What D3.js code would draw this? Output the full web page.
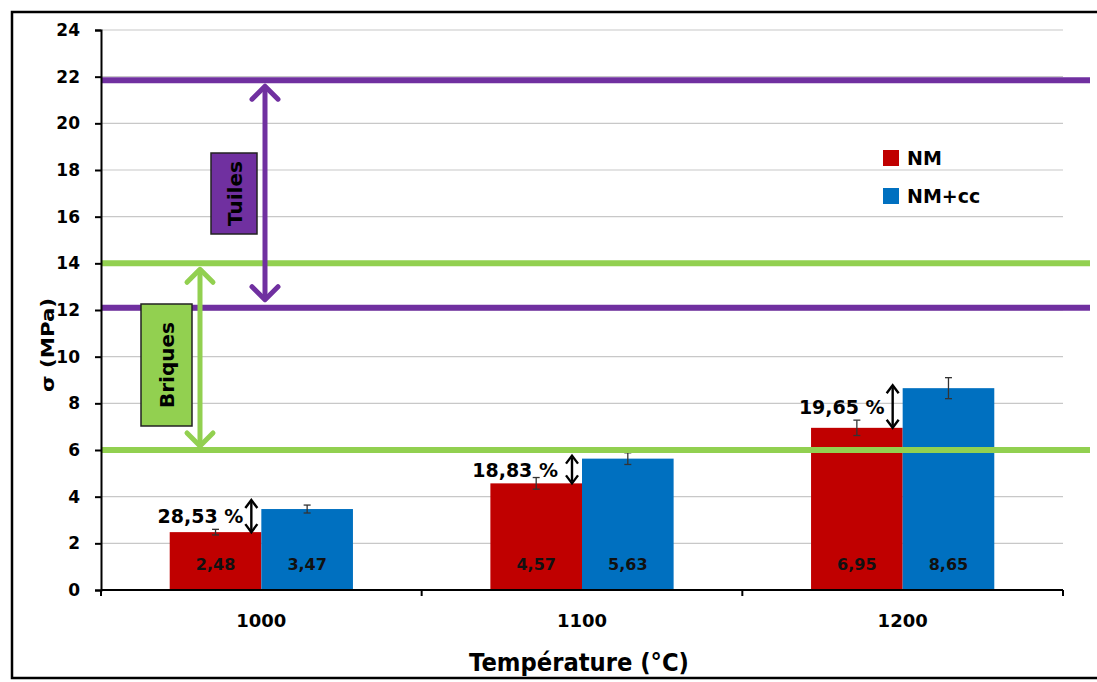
<!DOCTYPE html>
<html><head><meta charset="utf-8">
<script src="https://cdn.jsdelivr.net/npm/d3@7"></script>
<style>
body{margin:0;background:#fff;}
svg text{font-family:"DejaVu Sans",Arial,sans-serif;font-weight:bold;}
</style></head>
<body>
<svg id="chart" width="1097" height="682"></svg>
<script>
const categories = ["1000", "1100", "1200"];
const seriesNames = ["NM", "NM+cc"];
const nmValues = [2.48, 4.57, 6.95];
const nmccValues = [3.47, 5.63, 8.65];
const nmErrors = [0.12, 0.25, 0.33];
const nmccErrors = [0.17, 0.25, 0.45];
const nmLabels = ["2,48", "4,57", "6,95"];
const nmccLabels = ["3,47", "5,63", "8,65"];
const gainLabels = ["28,53 %", "18,83 %", "19,65 %"];
const yTicks = [0, 2, 4, 6, 8, 10, 12, 14, 16, 18, 20, 22, 24];
const tuilesRange = [12.1, 21.85];
const briquesRange = [6.0, 14.0];
const colors = {NM: "#C00000", "NM+cc": "#0070C0", tuiles: "#7030A0", briques: "#92D050"};

const svg = d3.select("#chart");
const pLeft = 101, pRight = 1063, pTop = 30, pBottom = 590;
const FONT = "'DejaVu Sans', Arial, sans-serif";

const y = d3.scaleLinear().domain([0, 24]).range([pBottom, pTop]);
const x = d3.scaleBand().domain(categories).range([pLeft, pRight]).paddingInner(0).paddingOuter(0);
const xs = d3.scaleBand().domain(seriesNames).range([0, x.bandwidth()]).paddingInner(0).paddingOuter(0.75);

// outer frame
svg.append("rect").attr("x", 12).attr("y", 12).attr("width", 1095).attr("height", 666)
  .attr("fill", "none").attr("stroke", "#000").attr("stroke-width", 2.5);

// gridlines
svg.append("g").selectAll("line").data(yTicks.filter(d => d > 0)).join("line")
  .attr("x1", pLeft).attr("x2", pRight).attr("y1", d => y(d)).attr("y2", d => y(d))
  .attr("stroke", "#c8c8c8").attr("stroke-width", 1.2);

// bars
const groups = svg.append("g").selectAll("g").data(categories).join("g")
  .attr("transform", d => `translate(${x(d)},0)`);
const barData = (c, i) => [
  {s: "NM", v: nmValues[i], e: nmErrors[i], l: nmLabels[i]},
  {s: "NM+cc", v: nmccValues[i], e: nmccErrors[i], l: nmccLabels[i]}
];
groups.each(function(c, i) {
  const g = d3.select(this);
  const bd = barData(c, i);
  g.selectAll("rect").data(bd).join("rect")
    .attr("x", d => xs(d.s)).attr("width", xs.bandwidth())
    .attr("y", d => y(d.v)).attr("height", d => y(0) - y(d.v))
    .attr("fill", d => colors[d.s]);
  g.selectAll("text.val").data(bd).join("text").attr("class", "val")
    .attr("x", d => xs(d.s) + xs.bandwidth() / 2).attr("y", 570)
    .attr("text-anchor", "middle").attr("font-size", 16).attr("fill", "#111")
    .text(d => d.l);
  bd.forEach(d => {
    const cx = xs(d.s) + xs.bandwidth() / 2;
    g.append("line").attr("x1", cx).attr("x2", cx).attr("y1", y(d.v + d.e)).attr("y2", y(d.v - d.e))
      .attr("stroke", "#333").attr("stroke-width", 1.3);
    [d.v + d.e, d.v - d.e].forEach(v => g.append("line").attr("x1", cx - 3.5).attr("x2", cx + 3.5)
      .attr("y1", y(v)).attr("y2", y(v)).attr("stroke", "#333").attr("stroke-width", 1.3));
  });
});

// reference lines
const refLines = [
  {v: tuilesRange[1], c: colors.tuiles},
  {v: tuilesRange[0], c: colors.tuiles},
  {v: briquesRange[1], c: colors.briques},
  {v: briquesRange[0], c: colors.briques}
];
svg.append("g").selectAll("line").data(refLines).join("line")
  .attr("x1", pLeft).attr("x2", 1090).attr("y1", d => y(d.v)).attr("y2", d => y(d.v))
  .attr("stroke", d => d.c).attr("stroke-width", 6);

// double arrows
function dblArrow(xp, y1, y2, color, w, head) {
  const g = svg.append("g").attr("stroke", color).attr("fill", "none")
    .attr("stroke-width", w).attr("stroke-linecap", "round").attr("stroke-linejoin", "round");
  g.append("line").attr("x1", xp).attr("x2", xp).attr("y1", y1 + 2).attr("y2", y2 - 2);
  g.append("path").attr("d", `M${xp - head},${y1 + head} L${xp},${y1} L${xp + head},${y1 + head}`);
  g.append("path").attr("d", `M${xp - head},${y2 - head} L${xp},${y2} L${xp + head},${y2 - head}`);
}
dblArrow(265, y(tuilesRange[1]) + 6, y(tuilesRange[0]) - 8, colors.tuiles, 5, 13);
dblArrow(200, y(briquesRange[1]) + 6, y(briquesRange[0]) - 4, colors.briques, 5, 13);

// label boxes
function labelBox(x0, y0, w, h, fill, txt, off) {
  svg.append("rect").attr("x", x0).attr("y", y0).attr("width", w).attr("height", h)
    .attr("fill", fill).attr("stroke", "#222").attr("stroke-width", 1.5);
  svg.append("text").attr("transform", `translate(${x0 + w / 2 + off},${y0 + h / 2}) rotate(-90)`)
    .attr("text-anchor", "middle").attr("font-size", 20).attr("fill", "#000").text(txt);
}
labelBox(211, 153, 46, 81, colors.tuiles, "Tuiles", 8);
labelBox(141, 304, 51, 122, colors.briques, "Briques", 7);

// gain annotations
categories.forEach((c, i) => {
  const ax = x(c) + xs("NM+cc") - 10;
  const yTop = y(nmccValues[i]);
  const yBot = y(nmValues[i]);
  const t = yTop - (i === 0 ? 9 : 3);
  const g = svg.append("g").attr("stroke", "#000").attr("fill", "none").attr("stroke-width", 2.4);
  g.append("line").attr("x1", ax).attr("x2", ax).attr("y1", t + 2).attr("y2", yBot - 2);
  g.append("path").attr("d", `M${ax - 6},${t + 8} L${ax},${t} L${ax + 6},${t + 8}`);
  g.append("path").attr("d", `M${ax - 6},${yBot - 8} L${ax},${yBot} L${ax + 6},${yBot - 8}`);
  svg.append("text").attr("x", ax - (i === 1 ? 14 : 8)).attr("y", (t + yBot) / 2 + 7)
    .attr("text-anchor", "end").attr("font-size", 19).attr("fill", "#000").text(gainLabels[i]);
});

// y axis
const yAxis = svg.append("g").attr("transform", `translate(${pLeft},0)`)
  .call(d3.axisLeft(y).tickValues(yTicks).tickSize(6).tickPadding(15));
yAxis.select(".domain").attr("stroke", "#000").attr("stroke-width", 2);
yAxis.selectAll(".tick line").attr("stroke", "#000").attr("stroke-width", 2);
yAxis.selectAll("text").attr("font-size", 17).attr("font-weight", "bold").attr("fill", "#000")
  .attr("font-family", FONT);

// x axis
const xAxisG = svg.append("g").attr("transform", `translate(0,${pBottom})`);
xAxisG.append("line").attr("x1", pLeft).attr("x2", pRight).attr("y1", 0).attr("y2", 0)
  .attr("stroke", "#000").attr("stroke-width", 2);
const bounds = categories.map(c => x(c)).concat([pRight]);
xAxisG.selectAll("line.tk").data(bounds).join("line").attr("class", "tk")
  .attr("x1", d => d).attr("x2", d => d).attr("y1", 0).attr("y2", 6)
  .attr("stroke", "#000").attr("stroke-width", 2);
xAxisG.selectAll("text").data(categories).join("text")
  .attr("x", d => x(d) + x.bandwidth() / 2).attr("y", 37)
  .attr("text-anchor", "middle").attr("font-size", 18).attr("fill", "#000").text(d => d);

// axis titles
svg.append("text").attr("transform", "translate(54,345) rotate(-90)")
  .attr("text-anchor", "middle").attr("font-size", 17).attr("fill", "#000")
  .attr("textLength", 94).attr("lengthAdjust", "spacingAndGlyphs").text("σ (MPa)");
svg.append("text").attr("x", 579).attr("y", 671)
  .attr("text-anchor", "middle").attr("font-size", 24).attr("fill", "#000")
  .attr("textLength", 220).attr("lengthAdjust", "spacingAndGlyphs")
  .text("Température (°C)");

// legend
const legend = svg.append("g").attr("transform", "translate(883,150)");
seriesNames.forEach((s, i) => {
  legend.append("rect").attr("x", 0).attr("y", i * 38).attr("width", 16).attr("height", 16).attr("fill", colors[s]);
  legend.append("text").attr("x", 24).attr("y", i * 38 + 15).attr("font-size", 19).attr("fill", "#000").text(s);
});
</script>
</body></html>
